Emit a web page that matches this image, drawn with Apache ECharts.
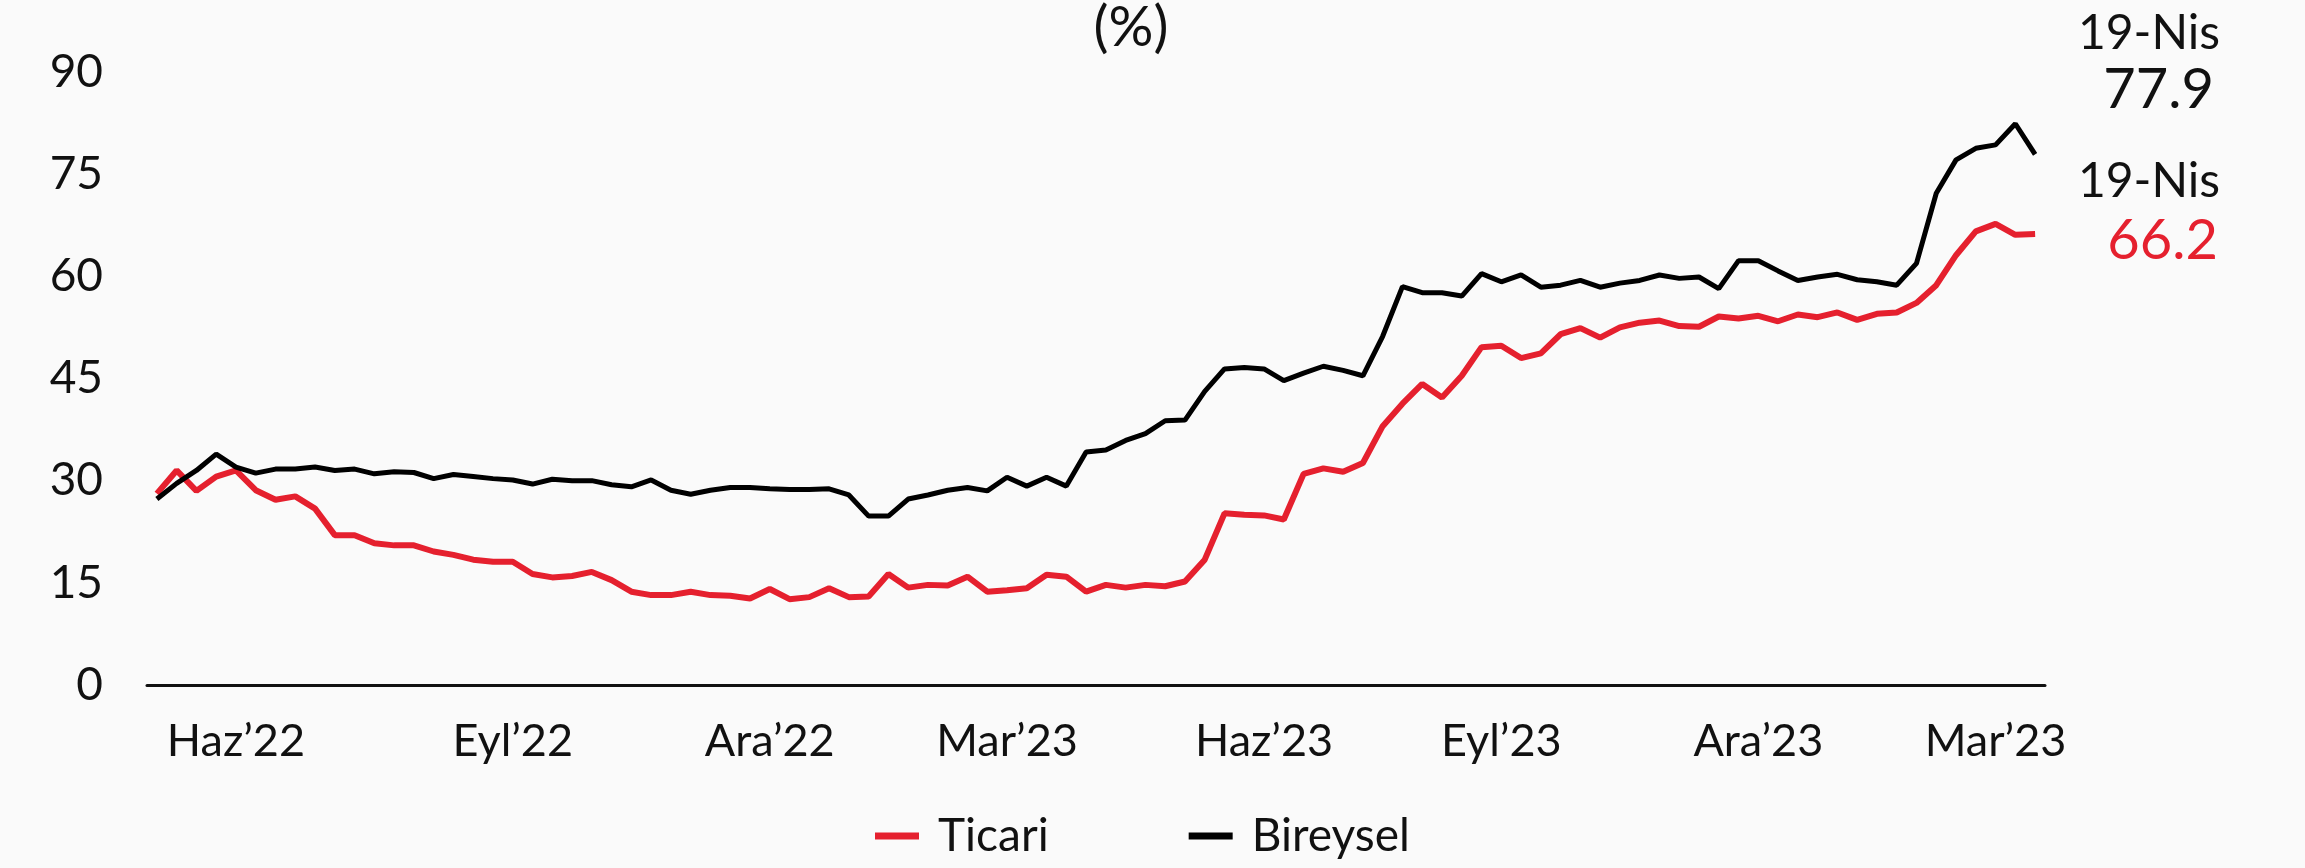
<!DOCTYPE html>
<html>
<head>
<meta charset="utf-8">
<script src="https://cdn.jsdelivr.net/npm/echarts@6/dist/echarts.min.js"></script>
<style>
  html, body { margin: 0; padding: 0; background: #fafafa; }
  #chart { width: 2305px; height: 868px; }
</style>
</head>
<body>
<div id="chart"></div>
<script>
// haftalik veriler, son gozlem 19-Nis
var ticari = [
  28.1, 31.5, 28.5, 30.6, 31.5, 28.6, 27.2, 27.7, 25.9, 22.0,
  22.0, 20.8, 20.5, 20.5, 19.6, 19.1, 18.4, 18.1, 18.1, 16.3,
  15.8, 16.0, 16.6, 15.4, 13.7, 13.2, 13.2, 13.7, 13.2, 13.1,
  12.7, 14.1, 12.6, 12.9, 14.2, 12.9, 13.0, 16.3, 14.3, 14.7,
  14.6, 15.9, 13.7, 13.9, 14.2, 16.2, 15.9, 13.7, 14.7, 14.3,
  14.7, 14.5, 15.2, 18.4, 25.2, 25.0, 24.9, 24.3, 31.0, 31.8,
  31.3, 32.6, 38.0, 41.3, 44.2, 42.2, 45.4, 49.6, 49.8, 48.0,
  48.7, 51.5, 52.4, 51.0, 52.5, 53.2, 53.5, 52.7, 52.6, 54.1,
  53.8, 54.2, 53.4, 54.4, 54.0, 54.7, 53.6, 54.5, 54.7, 56.1,
  58.7, 63.1, 66.6, 67.7, 66.1, 66.2
];
var bireysel = [
  27.3, 29.6, 31.5, 33.9, 32.0, 31.1, 31.7, 31.7, 32.0, 31.5,
  31.7, 31.0, 31.3, 31.2, 30.3, 30.9, 30.6, 30.3, 30.1, 29.5,
  30.2, 30.0, 30.0, 29.4, 29.1, 30.1, 28.6, 28.0, 28.6, 29.0,
  29.0, 28.8, 28.7, 28.7, 28.8, 27.9, 24.8, 24.8, 27.3, 27.9,
  28.6, 29.0, 28.5, 30.5, 29.2, 30.5, 29.2, 34.2, 34.5, 35.9,
  36.9, 38.8, 38.9, 43.1, 46.4, 46.6, 46.4, 44.7, 45.8, 46.8,
  46.2, 45.4, 51.2, 58.5, 57.6, 57.6, 57.1, 60.4, 59.2, 60.2,
  58.4, 58.7, 59.4, 58.4, 59.0, 59.4, 60.2, 59.7, 59.9, 58.2,
  62.3, 62.3, 60.8, 59.4, 59.9, 60.3, 59.5, 59.2, 58.7, 61.9,
  72.2, 77.1, 78.8, 79.3, 82.4, 77.9
];
var tickIdx = [4, 18, 31, 43, 56, 68, 81, 93];
var tickText = ["Haz\u201922", "Eyl\u201922", "Ara\u201922", "Mar\u201923", "Haz\u201923", "Eyl\u201923", "Ara\u201923", "Mar\u201923"];
var lastDate = "19-Nis";

// weekly category labels ending 19.04.2024
var weeks = [];
var d0 = new Date(2024, 3, 19);
for (var i = ticari.length - 1; i >= 0; i--) {
  var d = new Date(d0.getTime() - i * 7 * 86400000);
  weeks.push(d.getDate() + '.' + (d.getMonth() + 1) + '.' + d.getFullYear());
}

var RED = '#e5202e';
var FONT = 'Lato, "Noto Sans", sans-serif';

var myChart = echarts.init(document.getElementById('chart'));
var option = {
  backgroundColor: '#fafafa',
  animation: false,
  textStyle: { fontFamily: FONT },
  grid: { left: 147, right: 260, top: 72, bottom: 183 },
  legend: {
    bottom: 4,
    left: 870,
    itemGap: 140,
    itemWidth: 44,
    itemHeight: 7,
    icon: 'rect',
    textStyle: { fontSize: 46, color: '#111', fontFamily: FONT, padding: [0, 0, 0, 14] },
    data: ['Ticari', 'Bireysel']
  },
  xAxis: {
    type: 'category',
    data: weeks,
    boundaryGap: true,
    axisLine: { lineStyle: { color: '#111', width: 3 } },
    axisTick: { show: false },
    axisLabel: {
      interval: function (index) { return tickIdx.indexOf(index) >= 0; },
      formatter: function (val, index) {
        var k = tickIdx.indexOf(index);
        return k >= 0 ? tickText[k] : '';
      },
      fontSize: 45,
      color: '#111',
      margin: 34,
      fontFamily: FONT
    }
  },
  yAxis: {
    type: 'value',
    min: 0,
    max: 90,
    interval: 15,
    axisLine: { show: false },
    axisTick: { show: false },
    splitLine: { show: false },
    axisLabel: { fontSize: 46, color: '#111', margin: 44, fontFamily: FONT }
  },
  series: [
    {
      name: 'Ticari',
      type: 'line',
      data: ticari,
      symbol: 'none',
      color: RED,
      lineStyle: { color: RED, width: 6 }
    },
    {
      name: 'Bireysel',
      type: 'line',
      data: bireysel,
      symbol: 'none',
      color: '#000',
      lineStyle: { color: '#000', width: 5 }
    }
  ],
  graphic: [
    { type: 'text', x: 1131, y: 28, style: { text: '(%)', fontSize: 56, fill: '#111', fontFamily: FONT, align: 'center', verticalAlign: 'middle' } },
    { type: 'text', x: 2220, y: 34, style: { text: lastDate, fontSize: 48, fill: '#111', fontFamily: FONT, align: 'right', verticalAlign: 'middle' } },
    { type: 'text', x: 2214, y: 90, style: { text: bireysel[bireysel.length - 1].toFixed(1), fontSize: 56, fill: '#111', fontFamily: FONT, align: 'right', verticalAlign: 'middle' } },
    { type: 'text', x: 2220, y: 182, style: { text: lastDate, fontSize: 48, fill: '#111', fontFamily: FONT, align: 'right', verticalAlign: 'middle' } },
    { type: 'text', x: 2218, y: 241, style: { text: ticari[ticari.length - 1].toFixed(1), fontSize: 56, fill: RED, fontFamily: FONT, align: 'right', verticalAlign: 'middle' } }
  ]
};
myChart.setOption(option);
</script>
</body>
</html>
